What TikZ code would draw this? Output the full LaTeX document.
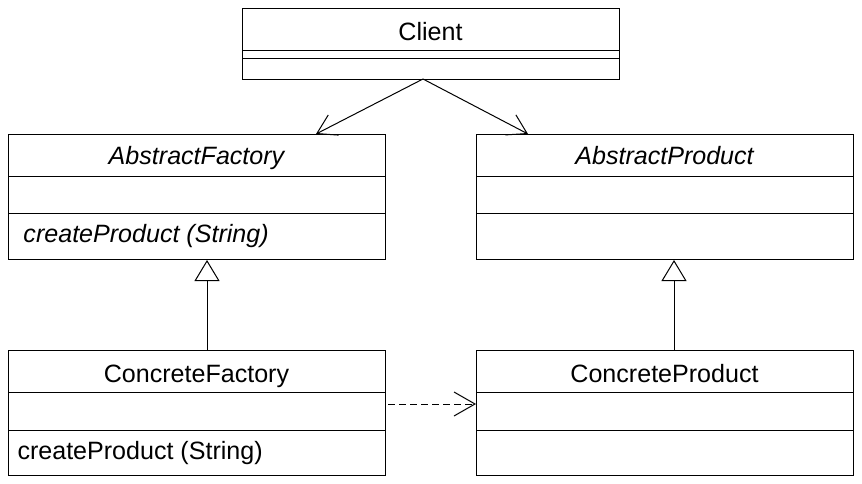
\documentclass[tikz,border=0pt]{standalone}
\usepackage{fontspec}
\setmainfont{Liberation Sans}
\usetikzlibrary{arrows.meta}

\begin{document}
\begin{tikzpicture}[x=0.75pt,y=-0.75pt,line width=0.75pt,
  classbox/.style={draw,inner sep=0pt,anchor=north west,minimum width=282.75pt},
  umltext/.style={inner sep=0pt,font=\fontsize{18.8}{22}\selectfont},
  assoc/.style={-{Straight Barb[length=14pt,width=17pt]}},
  inherit/.style={-{Triangle[open,length=15.75pt,width=18.75pt]}},
  depend/.style={dash pattern=on 5.25pt off 3pt,-{Straight Barb[length=15.75pt,width=18pt]}}]

\useasboundingbox (0,0) rectangle (862,484);

% classes
\node[classbox,minimum height=53.25pt] (client) at (242,8) {};
\node[classbox,minimum height=93.75pt] (absfactory) at (8,134) {};
\node[classbox,minimum height=93.75pt] (absproduct) at (476,134) {};
\node[classbox,minimum height=93.75pt] (confactory) at (8,350) {};
\node[classbox,minimum height=93.75pt] (conproduct) at (476,350) {};

% compartments
\draw (242,51) -- (619,51);
\draw (242,59) -- (619,59);
\draw (8,177) -- (385,177);
\draw (8,214) -- (385,214);
\draw (476,177) -- (853,177);
\draw (476,214) -- (853,214);
\draw (8,392) -- (385,392);
\draw (8,430) -- (385,430);
\draw (476,392) -- (853,392);
\draw (476,430) -- (853,430);

% texts
\node[umltext,anchor=base] (clientname) at (430.5,41) {Client};
\node[umltext,anchor=base] (afname) at (196.5,165) {\itshape AbstractFactory};
\node[umltext,anchor=base west] (afop) at (23,243) {\itshape createProduct (String)};
\node[umltext,anchor=base] (apname) at (664.5,165) {\itshape AbstractProduct};
\node[umltext,anchor=base] (cfname) at (196.5,382) {ConcreteFactory};
\node[umltext,anchor=base west] (cfop) at (17,459) {createProduct (String)};
\node[umltext,anchor=base] (cpname) at (664.5,382) {ConcreteProduct};

% connectors
\coordinate (clientout) at (423,79);
\coordinate (afin) at (316,134);
\coordinate (apin) at (528,134);
\draw[assoc] (clientout) -- (afin);
\draw[assoc] (clientout) -- (apin);
\draw[inherit] (confactory.north -| 207,0) -- (absfactory.south -| 207,0);
\draw[inherit] (conproduct.north -| 674,0) -- (absproduct.south -| 674,0);
\draw[depend] (388,404) -- (conproduct.west |- 0,404);
\end{tikzpicture}
\end{document}
